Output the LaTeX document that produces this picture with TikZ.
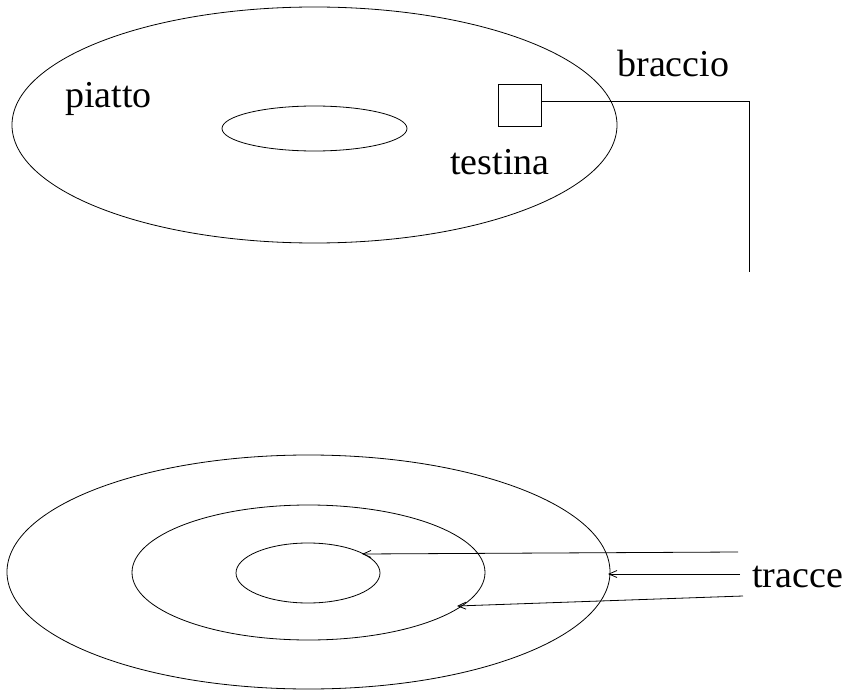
\documentclass[tikz,border=0pt]{standalone}
\usepackage{fontspec}
\setmainfont{Liberation Serif}
\usetikzlibrary{arrows.meta}
\begin{document}
\begin{tikzpicture}[x=1pt,y=-1pt,line width=0.8pt,
  lbl/.style={anchor=base west,inner sep=0pt,font=\fontsize{38}{40}\selectfont},
  arr/.style={-{Straight Barb[length=8pt,width=7pt,line width=0.8pt]}}]
\useasboundingbox (0,0) rectangle (852,690);
% top platter
\draw (314.5,125) ellipse [x radius=302.5, y radius=118];
\draw (314.5,128.5) ellipse [x radius=92.5, y radius=22.5];
\node[draw,minimum width=43pt,minimum height=42pt,inner sep=0pt,line width=0.8pt] (testa) at (519.5,105) {};
\coordinate (corner) at (749,101);
\coordinate (armend) at (749,272);
\draw (testa.east |- corner) -- (corner) -- (armend);
\node[lbl] (piatto) at (65,108) {piatto};
\node[lbl] (braccio) at (617,77) {braccio};
\node[lbl] (testina) at (450,175) {testina};
% bottom platter
\draw (308.5,572) ellipse [x radius=301.5, y radius=117];
\draw (308.5,572.5) ellipse [x radius=176.5, y radius=67.5];
\draw (308,573) ellipse [x radius=72, y radius=30];
\node[lbl] (tracce) at (752,587) {tracce};
\coordinate (s1) at (738,552);
\coordinate (e1) at (362,554);
\coordinate (s2) at (740,574);
\coordinate (e2) at (608,574);
\coordinate (s3) at (743,596);
\coordinate (e3) at (457,606);
\draw[arr] (s1) -- (e1);
\draw[arr] (s2) -- (e2);
\draw[arr] (s3) -- (e3);
\end{tikzpicture}
\end{document}
